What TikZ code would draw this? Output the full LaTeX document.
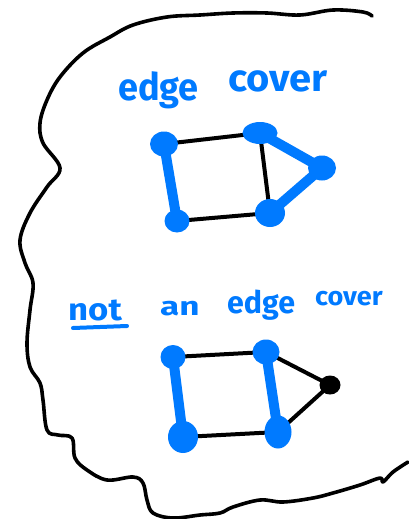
\documentclass[tikz,border=0pt]{standalone}
\usepackage{fontspec}
\setmainfont{Fira Sans}
\usetikzlibrary{shapes.geometric,backgrounds}
\definecolor{hblue}{RGB}{0,122,255}
\begin{document}
\begin{tikzpicture}[x=1pt,y=-1pt,
  bv/.style={ellipse,fill=hblue,inner sep=0pt},
  kv/.style={ellipse,fill=black,inner sep=0pt,minimum width=21pt,minimum height=19pt},
  ke/.style={draw=black,line width=4pt,line cap=round},
  be/.style={draw=hblue,line width=10pt,line cap=round},
  word/.style={text=hblue,anchor=base west,inner sep=0pt},
  blob/.style={draw=black,line width=3.6pt,line cap=round,line join=round}]
\useasboundingbox (0,0) rectangle (408,519);
% outline
\draw[blob] plot[smooth,tension=0.6] coordinates {
 (372,16) (363,12) (333,10) (300,15) (267,13) (233,13) (200,15) (167,17)
 (133,25) (110,37) (83,53) (60,77) (47,100) (40,123) (43,143) (60,168)
 (47,187) (30,213) (20,240) (25,263) (33,283) (30,310) (27,343) (30,367)
 (40,383) (43,400) (47,430) (58,435) (72,438) (75,458) (87,470) (107,480)
 (133,477) (143,483) (147,500) (153,513) (173,518) (200,515) (220,513)
 (233,507) (260,500) (283,502) (313,498) (333,493) (360,485) (380,478)
 (383,482) (393,472) (408,462)};
% titles
\node[word,font=\fontsize{38}{40}\selectfont\bfseries] (t1) at (118,100) {\scalebox{0.95}[1]{edge}};
\node[word,font=\fontsize{38}{40}\selectfont\bfseries] (t2) at (228,92) {\scalebox{1.05}[1]{cover}};
\node[word,font=\fontsize{31}{33}\selectfont\bfseries] (n1) at (68,320) {\scalebox{1.12}[1]{not}};
\node[word,font=\fontsize{26}{28}\selectfont\bfseries] (n2) at (160,315) {\scalebox{1.35}[1]{an}};
\node[word,font=\fontsize{31}{33}\selectfont\bfseries] (n3) at (227,313) {\scalebox{0.98}[1]{edge}};
\node[word,font=\fontsize{26}{28}\selectfont\bfseries] (n4) at (315,305) {\scalebox{1.04}[1]{cover}};
\draw[draw=hblue,line width=4pt,line cap=round] (73,328) -- (127,326);
% graph 1
\node[bv,minimum width=28pt,minimum height=25pt] (a1) at (164,144) {};
\node[bv,minimum width=35pt,minimum height=22pt] (a2) at (260,133) {};
\node[bv,minimum width=28pt,minimum height=25pt] (a3) at (322,168) {};
\node[bv,minimum width=30pt,minimum height=28pt] (a4) at (270,213) {};
\node[bv,minimum width=25pt,minimum height=23pt] (a5) at (177,221) {};
% graph 2
\node[bv,minimum width=25pt,minimum height=24pt] (b1) at (173,357) {};
\node[bv,minimum width=27pt,minimum height=25pt] (b2) at (266,352) {};
\node[kv] (b3) at (330,385) {};
\node[bv,minimum width=27pt,minimum height=33pt] (b4) at (278,432) {};
\node[bv,minimum width=30pt,minimum height=32pt] (b5) at (183,437) {};
\begin{scope}[on background layer]
\fill[white] (0,0) rectangle (408,519);
\draw[ke] (a1.center) -- (a2.center);
\draw[ke] (a2.center) -- (a4.center);
\draw[ke] (a5.center) -- (a4.center);
\draw[be] (a1.center) -- (a5.center);
\draw[be] (a2.center) -- (a3.center);
\draw[be] (a3.center) -- (a4.center);
\draw[ke] (b1.center) -- (b2.center);
\draw[ke] (b5.center) -- (b4.center);
\draw[ke] (b2.center) -- (b3.center);
\draw[ke] (b3.center) -- (b4.center);
\draw[be] (b1.center) -- (b5.center);
\draw[be] (b2.center) -- (b4.center);
\end{scope}
\end{tikzpicture}
\end{document}
